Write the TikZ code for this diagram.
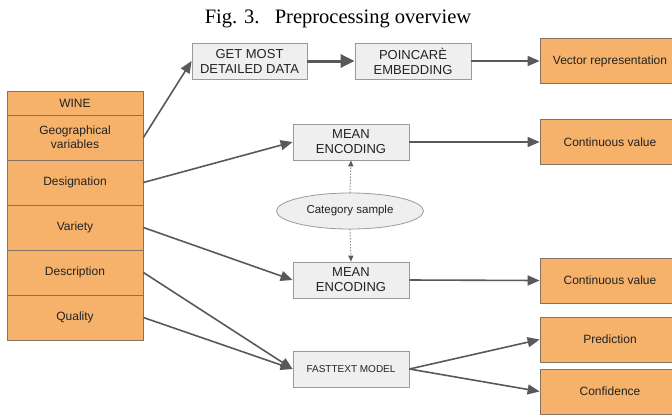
\documentclass[tikz,border=0pt]{standalone}
\usepackage{fontspec}
\setmainfont{Liberation Serif}
\setsansfont{Liberation Sans}
\usetikzlibrary{shapes.geometric, arrows.meta, positioning}

\definecolor{wineorange}{HTML}{F6B26B}
\definecolor{cellborder}{HTML}{857262}
\definecolor{boxgray}{HTML}{EFEFEF}
\definecolor{boxborder}{HTML}{9A9A9A}
\definecolor{arrowgray}{HTML}{595959}
\definecolor{textgray}{HTML}{222222}

\begin{document}
\begin{tikzpicture}[
    x=1pt, y=-1pt,
    % Styles
    cell/.style={
        rectangle,
        draw=cellborder,
        fill=wineorange,
        line width=0.8pt,
        minimum width=136pt,
        minimum height=45pt,
        inner sep=0pt,
        align=center,
        text=textgray,
        font=\sffamily\fontsize{12}{14}\selectfont
    },
    outbox/.style={
        cell,
        minimum width=140pt
    },
    stepbox/.style={
        rectangle,
        draw=boxborder,
        fill=boxgray,
        line width=0.8pt,
        minimum width=116pt,
        minimum height=36pt,
        inner sep=0pt,
        align=center,
        text=textgray,
        font=\sffamily\fontsize{13}{15}\selectfont
    },
    sample/.style={
        ellipse,
        draw=boxborder,
        fill=boxgray,
        line width=0.8pt,
        minimum width=147pt,
        minimum height=36pt,
        inner sep=0pt,
        text=textgray,
        font=\sffamily\fontsize{11.5}{13}\selectfont
    },
    arrow/.style={
        -{Triangle[length=12pt,width=10pt]},
        draw=arrowgray,
        line width=1.6pt
    },
    dotarrow/.style={
        -{Triangle[length=6pt,width=5pt]},
        draw=arrowgray,
        line width=1pt,
        dotted
    }
]
\useasboundingbox (0,0) rectangle (672,416);

% Caption
\node[anchor=base, inner sep=0pt, font=\fontsize{20.5}{22}\selectfont] (caption) at (338,23) {Fig. 3.\hspace{0.75em}Preprocessing overview};

% Wine attribute stack
\node[cell, minimum height=24pt] (wine) at (75,103) {WINE};
\node[cell] (geo) at (75,137.5) {Geographical\\variables};
\node[cell] (desig) at (75,182.5) {Designation};
\node[cell] (variety) at (75,227.5) {Variety};
\node[cell] (descr) at (75,272.5) {Description};
\node[cell] (quality) at (75,317.5) {Quality};

% Processing steps
\node[stepbox, minimum width=115pt] (getdata) at (249.5,61) {GET MOST\\DETAILED DATA};
\node[stepbox] (poincare) at (413,61) {POINCARÈ\\EMBEDDING};
\node[stepbox] (mean1) at (351,142) {MEAN\\ENCODING};
\node[sample] (catsample) at (350,211) {Category sample};
\node[stepbox] (mean2) at (351,280) {MEAN\\ENCODING};
\node[stepbox, font=\sffamily\fontsize{10}{12}\selectfont] (fasttext) at (351,369) {FASTTEXT MODEL};

% Outputs
\node[outbox] (vector) at (610,61) {Vector representation};
\node[outbox] (cont1) at (610,142) {Continuous value};
\node[outbox] (cont2) at (610,280.5) {Continuous value};
\node[outbox] (predict) at (610,339.5) {Prediction};
\node[outbox] (confid) at (610,391.5) {Confidence};

% Connections
\draw[arrow] (geo.east) -- (getdata.west);
\draw[arrow, line width=3pt, -{Triangle[length=14pt,width=13pt]}] (getdata.east) -- (poincare.west);
\draw[arrow] (poincare.east) -- (vector.west);
\draw[arrow] (desig.east) -- (mean1.west);
\draw[arrow] (mean1.east) -- (cont1.west);
\draw[arrow] (variety.east) -- (mean2.west);
\draw[arrow] (mean2.east) -- (cont2.west);
\draw[arrow] (descr.east) -- (fasttext.west);
\draw[arrow] (quality.east) -- (fasttext.west);
\draw[arrow] (fasttext.east) -- (predict.west);
\draw[arrow] (fasttext.east) -- (confid.west);

% Category sample feeds both encoders
\draw[dotarrow] (catsample.north) -- (mean1.south);
\draw[dotarrow] (catsample.south) -- (mean2.north);

\end{tikzpicture}
\end{document}
